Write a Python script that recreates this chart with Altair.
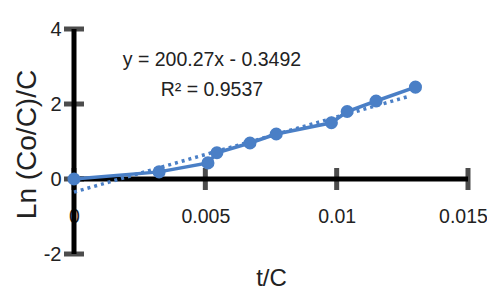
import altair as alt
import pandas as pd

# Data
t_c = [0.0, 0.00324, 0.0051, 0.00544, 0.0067, 0.0077, 0.0098, 0.0104, 0.0115, 0.0130]
ln_c = [0.0, 0.19, 0.43, 0.70, 0.96, 1.20, 1.50, 1.80, 2.08, 2.45]

# Linear trendline from the chart equation
slope = 200.27
intercept = -0.3492
trend_x = [0.0, 0.0128]

x_ticks = [0.0, 0.005, 0.01, 0.015]
y_ticks = [-2, 0, 2, 4]

equation_text = ["y = 200.27x - 0.3492", "R\u00b2 = 0.9537"]
eq_x = [0.00525, 0.00525]
eq_y = [3.18, 2.38]

BLUE = "#4a7fc6"
FONT = "Liberation Sans, Arial, sans-serif"
TXT = "#222222"

df = pd.DataFrame({"x": t_c, "y": ln_c})
trend = pd.DataFrame({"x": trend_x, "y": [slope * v + intercept for v in trend_x]})
xaxis_df = pd.DataFrame({"x": [x_ticks[0]], "x2": [x_ticks[-1]], "y": [0]})
yaxis_df = pd.DataFrame({"x": [0], "y": [y_ticks[0]], "y2": [y_ticks[-1]]})
xt_df = pd.DataFrame({"x": x_ticks, "y": [0] * len(x_ticks)})
yt_df = pd.DataFrame({"x": [0] * len(y_ticks), "y": y_ticks})
eq_df = pd.DataFrame({"x": eq_x, "y": eq_y, "t": equation_text})

xscale = alt.Scale(domain=[0, 0.015], nice=False, zero=False)
yscale = alt.Scale(domain=[-2, 4], nice=False, zero=False)

xenc = alt.X(
    "x:Q",
    scale=xscale,
    axis=alt.Axis(
        values=x_ticks,
        format="~g",
        title="t/C",
        domain=False,
        ticks=False,
        grid=False,
        offset=-51,
        labelPadding=4,
        labelFlush=False,
        labelOverlap=False,
        labelOffset={"condition": {"test": "datum.value >= 0.015", "value": -5}, "value": 0},
        labelFont=FONT,
        labelFontSize=19.5,
        labelColor=TXT,
        titleFont=FONT,
        titleFontSize=24,
        titleFontWeight="normal",
        titleColor=TXT,
        titleBaseline="top",
        titleY=63,
    ),
)
yenc = alt.Y(
    "y:Q",
    scale=yscale,
    axis=alt.Axis(
        values=y_ticks,
        labelExpr="datum.value < 0 ? '-' + abs(datum.value) : '' + datum.value",
        title="Ln (Co/C)/C",
        domain=False,
        ticks=False,
        grid=False,
        labelPadding=13,
        labelFont=FONT,
        labelFontSize=20,
        labelColor=TXT,
        titleFont=FONT,
        titleFontSize=28,
        titleFontWeight="normal",
        titleColor=TXT,
        titleX=-47,
        titleY=115,
        titleBaseline="middle",
    ),
)

base_axes = alt.Chart(df).mark_point(opacity=0).encode(x=xenc, y=yenc)

xaxis_line = alt.Chart(xaxis_df).mark_rule(color="black", strokeWidth=5).encode(
    x=alt.X("x:Q", scale=xscale), x2="x2:Q", y=alt.Y("y:Q", scale=yscale)
)
yaxis_line = alt.Chart(yaxis_df).mark_rule(color="black", strokeWidth=5).encode(
    x=alt.X("x:Q", scale=xscale), y=alt.Y("y:Q", scale=yscale), y2="y2:Q"
)
xticks_m = alt.Chart(xt_df).mark_tick(color="black", size=22, thickness=5, orient="vertical").encode(
    x=alt.X("x:Q", scale=xscale), y=alt.Y("y:Q", scale=yscale)
)
yticks_m = alt.Chart(yt_df).mark_tick(color="black", size=20, thickness=5, orient="horizontal").encode(
    x=alt.X("x:Q", scale=xscale), y=alt.Y("y:Q", scale=yscale)
)

trend_line = alt.Chart(trend).mark_line(color=BLUE, strokeWidth=3.5, strokeDash=[3, 4]).encode(
    x=alt.X("x:Q", scale=xscale), y=alt.Y("y:Q", scale=yscale)
)
series_line = alt.Chart(df).mark_line(color=BLUE, strokeWidth=3.5).encode(
    x=alt.X("x:Q", scale=xscale), y=alt.Y("y:Q", scale=yscale)
)
series_pts = alt.Chart(df).mark_circle(color=BLUE, size=170, opacity=1).encode(
    x=alt.X("x:Q", scale=xscale), y=alt.Y("y:Q", scale=yscale)
)
eq = alt.Chart(eq_df).mark_text(font=FONT, fontSize=19.5, color=TXT, align="center", baseline="middle").encode(
    x=alt.X("x:Q", scale=xscale), y=alt.Y("y:Q", scale=yscale), text="t:N"
)

chart = (
    alt.layer(base_axes, xaxis_line, yaxis_line, xticks_m, yticks_m, trend_line, series_line, series_pts, eq)
    .properties(
        width=394,
        height=225,
        padding={"left": 66, "top": 21, "right": 19, "bottom": 45},
        autosize=alt.AutoSizeParams(type="none"),
        background="white",
    )
    .configure_view(stroke=None)
)

chart.save("out.html", embed_options={"renderer": "svg", "actions": False})
